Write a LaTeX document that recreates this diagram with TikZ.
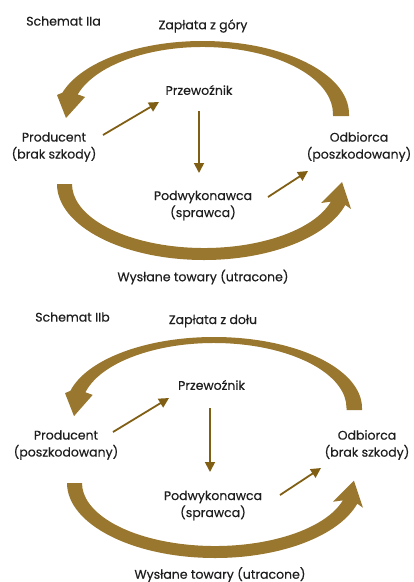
\documentclass[tikz,border=0pt]{standalone}
\usepackage{fontspec}
\setmainfont{Poppins}[FakeBold=0.4]
\usetikzlibrary{arrows.meta,calc}
\definecolor{gold}{RGB}{153,119,46}
\definecolor{brownarrow}{RGB}{128,95,20}
\definecolor{ink}{RGB}{30,30,30}
\begin{document}
\begin{tikzpicture}[x=1pt,y=-1pt,
  lbl/.style={font=\fontsize{12.5}{17}\selectfont, text=ink, align=center, inner sep=0pt},
  band/.style={fill=gold},
  smallarrow/.style={draw=brownarrow, line width=1.8pt, -{Triangle[length=10pt,width=10pt]}}]
\useasboundingbox (0,0) rectangle (414,582);
% ---------- Schemat IIa ----------
\fill[band] (349,116) -- (349,114) arc[start angle=0,end angle=-163,x radius=146.5,y radius=73]
  -- (57,95) -- (66,118) -- (85,97) -- (77.70,94.41)
  arc[start angle=-163,end angle=0,x radius=130.5,y radius=67] -- (333,116) -- cycle;
\fill[band] (57,184) arc[start angle=180,end angle=16,x radius=147,y radius=76]
  -- (351,209) -- (342,182) -- (321,203) -- (330.89,201.64)
  arc[start angle=16,end angle=180,x radius=132,y radius=64] -- cycle;
\node[lbl] (schA) at (63.5,21) {Schemat IIa};
\node[lbl] (payA) at (203,26) {Zapłata z góry};
\node[lbl] (przA) at (199,90) {Przewoźnik};
\node[lbl] (prodA) at (54,147) {Producent\\(brak szkody)};
\node[lbl] (odbA) at (359,147) {Odbiorca\\(poszkodowany)};
\node[lbl] (podA) at (203,205.5) {Podwykonawca\\(sprawca)};
\node[lbl] (wysA) at (203,277) {Wysłane towary (utracone)};
\draw[smallarrow] ($(prodA.center)+(49,-12)$) -- ($(przA.center)+(-40,12)$);
\draw[smallarrow] ($(przA.center)+(0,21)$) -- ($(podA.center)+(-4,-32.5)$);
\draw[smallarrow] ($(podA.center)+(65,-8.5)$) -- ($(odbA.center)+(-51,24)$);
% ---------- Schemat IIb ----------
\fill[band] (362,410) -- (362,408) arc[start angle=0,end angle=-166,x radius=148,y radius=71]
  -- (65,393.1) -- (74,416.1) -- (92.7,394.9) -- (85.44,392.28)
  arc[start angle=-166,end angle=0,x radius=132.5,y radius=65] -- (346.5,410) -- cycle;
\fill[band] (67,483) arc[start angle=180,end angle=16,x radius=148,y radius=75]
  -- (362.96,507.72) -- (353.96,480.72) -- (332.96,501.73) -- (342.85,500.37)
  arc[start angle=16,end angle=180,x radius=133,y radius=63] -- cycle;
\node[lbl] (schB) at (72.5,317) {Schemat IIb};
\node[lbl] (payB) at (213,321) {Zapłata z dołu};
\node[lbl] (przB) at (211.5,385) {Przewoźnik};
\node[lbl] (prodB) at (66,445) {Producent\\(poszkodowany)};
\node[lbl] (odbB) at (367,445) {Odbiorca\\(brak szkody)};
\node[lbl] (podB) at (213,505.5) {Podwykonawca\\(sprawca)};
\node[lbl] (wysB) at (220,574.5) {Wysłane towary (utracone)};
\draw[smallarrow] ($(prodB.center)+(47,-13)$) -- ($(przB.center)+(-42.5,13)$);
\draw[smallarrow] ($(przB.center)+(-1.5,23)$) -- ($(podB.center)+(-3,-33.5)$);
\draw[smallarrow] ($(podB.center)+(67,-10.5)$) -- ($(odbB.center)+(-46,23)$);
\end{tikzpicture}
\end{document}
